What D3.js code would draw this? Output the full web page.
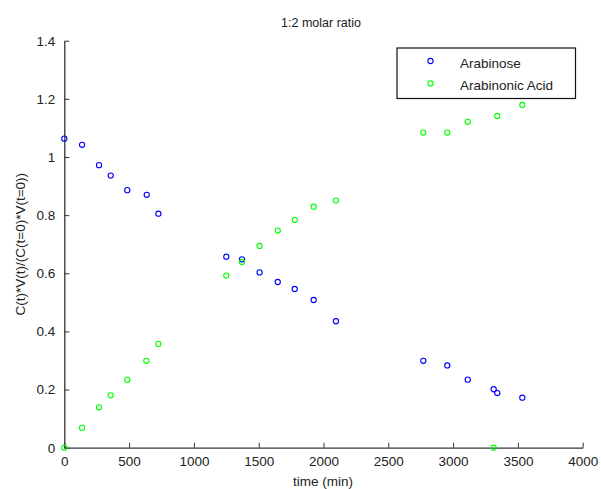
<!DOCTYPE html>
<html><head><meta charset="utf-8">
<script src="https://cdn.jsdelivr.net/npm/d3@7"></script>
<style>body{margin:0;background:#fff}svg{display:block}text{font-family:"Liberation Sans",Arial,sans-serif}</style>
</head><body><svg id="c" width="601" height="489"></svg>
<script>
const timeArab = [0,137,268,358,486,636,726,1250,1371,1507,1647,1778,1924,2096,2770,2955,3113,3313,3341,3534];
const arabinose = [1.063,1.042,0.972,0.936,0.886,0.870,0.805,0.657,0.648,0.603,0.570,0.546,0.508,0.435,0.299,0.283,0.234,0.201,0.188,0.172];
const timeAcid = [0,137,268,358,486,633,726,1250,1371,1507,1647,1778,1924,2096,2770,2955,3113,3313,3341,3534];
const arabinonicAcid = [0,0.069,0.139,0.180,0.234,0.299,0.357,0.592,0.639,0.694,0.747,0.784,0.829,0.850,1.084,1.084,1.121,0,1.141,1.179];
const xTicks = [0,500,1000,1500,2000,2500,3000,3500,4000];
const yTicks = [0,0.2,0.4,0.6,0.8,1,1.2,1.4];
const seriesNames = ["Arabinose","Arabinonic Acid"];
const seriesColors = ["#0000ff","#00ff00"];

const svg = d3.select("#c");
const L=64.3, R=582.7, T=40.7, B=447.7;
const x = d3.scaleLinear().domain([0,4000]).range([L,R]);
const y = d3.scaleLinear().domain([0,1.4]).range([B,T]);

const xAxis = d3.axisBottom(x).tickValues(xTicks).tickSizeInner(-5).tickSizeOuter(0).tickPadding(9).tickFormat(d3.format("d"));
const yAxis = d3.axisLeft(y).tickValues(yTicks).tickSizeInner(-5).tickSizeOuter(0).tickPadding(9).tickFormat(d=>String(+d.toFixed(1)));

const gx = svg.append("g").attr("transform",`translate(0,${B})`).call(xAxis);
const gy = svg.append("g").attr("transform",`translate(${L},0)`).call(yAxis);
[gx,gy].forEach(g=>{
  g.selectAll("path").attr("stroke","#333").attr("stroke-width",1.3);
  g.selectAll("line").attr("stroke","#333");
  g.selectAll("text").attr("font-size",13.5).attr("fill","#222").attr("font-family","Liberation Sans, Arial, sans-serif");
});

const series = [
  {name:seriesNames[0], color:seriesColors[0], t:timeArab, v:arabinose},
  {name:seriesNames[1], color:seriesColors[1], t:timeAcid, v:arabinonicAcid}
];
series.forEach(s=>{
  svg.append("g").selectAll("circle").data(s.v).join("circle")
    .attr("cx",(d,i)=>x(s.t[i])).attr("cy",d=>y(d)).attr("r",2.6)
    .attr("fill","none").attr("stroke",s.color).attr("stroke-width",1.1);
});

svg.append("text").attr("x",321).attr("y",27).attr("text-anchor","middle").attr("font-size",12.5).attr("fill","#222").text("1:2 molar ratio");
svg.append("text").attr("x",323).attr("y",486).attr("text-anchor","middle").attr("font-size",13.5).attr("fill","#222").text("time (min)");
svg.append("text").attr("transform",`translate(25,${(T+B)/2}) rotate(-90)`).attr("text-anchor","middle").attr("font-size",13.5).attr("fill","#222").text("C(t)*V(t)/(C(t=0)*V(t=0))");

// legend
const lg = svg.append("g");
lg.append("rect").attr("x",397).attr("y",48).attr("width",178.5).attr("height",50.5).attr("fill","#fff").attr("stroke","#111").attr("stroke-width",1.2);
series.forEach((s,i)=>{
  lg.append("circle").attr("cx",430.5).attr("cy",61+i*22.5).attr("r",2.6).attr("fill","none").attr("stroke",s.color).attr("stroke-width",1.1);
  lg.append("text").attr("x",460).attr("y",67.5+i*22.8).attr("font-size",13.5).attr("fill","#222").text(s.name);
});
</script></body></html>
